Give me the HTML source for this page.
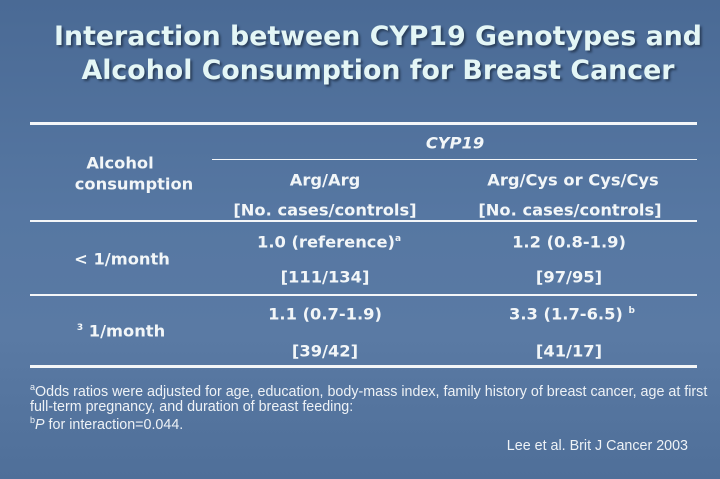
<!DOCTYPE html>
<html><head><style>
body{margin:0;width:720px;height:479px;overflow:hidden;position:relative;
background:linear-gradient(180deg,#4a6a95 0%,#5677a2 45%,#5a7aa4 70%,#4f6f99 100%);
font-family:"DejaVu Sans","Liberation Sans",sans-serif;color:#f2f6f8}
.t{position:absolute;white-space:nowrap;transform:translate(-50%,-50%);font-weight:bold;font-size:16.3px}
.title{position:absolute;left:0;width:756px;text-align:center;font-weight:bold;font-size:26.8px;color:#e4f6f6;text-shadow:2px 2px 2px #2a3f5c}
.r{position:absolute;background:#f4f6f8}
.f{position:absolute;left:30px;font-family:"Liberation Sans",sans-serif;font-size:14.3px;white-space:nowrap;color:#eef2f6}
sup{font-size:9px}
</style></head><body>
<div class="title" style="top:21px">Interaction between CYP19 Genotypes and</div>
<div class="title" style="top:55px">Alcohol Consumption for Breast Cancer</div>
<div class="r" style="left:30px;top:122px;width:667px;height:3px"></div>
<div class="r" style="left:212px;top:159px;width:485px;height:1px"></div>
<div class="r" style="left:30px;top:220px;width:667px;height:2px"></div>
<div class="r" style="left:30px;top:294px;width:667px;height:2px"></div>
<div class="r" style="left:30px;top:365px;width:667px;height:3px"></div>
<div class="t" style="left:455px;top:143px;font-style:italic">CYP19</div>
<div class="t" style="left:120px;top:163px">Alcohol</div>
<div class="t" style="left:134px;top:184px">consumption</div>
<div class="t" style="left:325px;top:180px">Arg/Arg</div>
<div class="t" style="left:573px;top:180px">Arg/Cys or Cys/Cys</div>
<div class="t" style="left:325px;top:210px">[No. cases/controls]</div>
<div class="t" style="left:570px;top:210px">[No. cases/controls]</div>
<div class="t" style="left:122px;top:259px">&lt; 1/month</div>
<div class="t" style="left:329px;top:242px">1.0 (reference)<sup>a</sup></div>
<div class="t" style="left:569px;top:242px">1.2 (0.8-1.9)</div>
<div class="t" style="left:325px;top:277px">[111/134]</div>
<div class="t" style="left:569px;top:277px">[97/95]</div>
<div class="t" style="left:121px;top:331px"><sup>3</sup> 1/month</div>
<div class="t" style="left:325px;top:314px">1.1 (0.7-1.9)</div>
<div class="t" style="left:572px;top:314px">3.3 (1.7-6.5) <sup>b</sup></div>
<div class="t" style="left:325px;top:351px">[39/42]</div>
<div class="t" style="left:569px;top:351px">[41/17]</div>
<div class="f" style="top:382px"><sup>a</sup>Odds ratios were adjusted for age, education, body-mass index, family history of breast cancer, age at first</div>
<div class="f" style="top:399px">full-term pregnancy, and duration of breast feeding:</div>
<div class="f" style="top:415px"><sup>b</sup><i>P</i> for interaction=0.044.</div>
<div class="f" style="top:438px;left:auto;right:32px">Lee et al. Brit J Cancer 2003</div>
</body></html>
